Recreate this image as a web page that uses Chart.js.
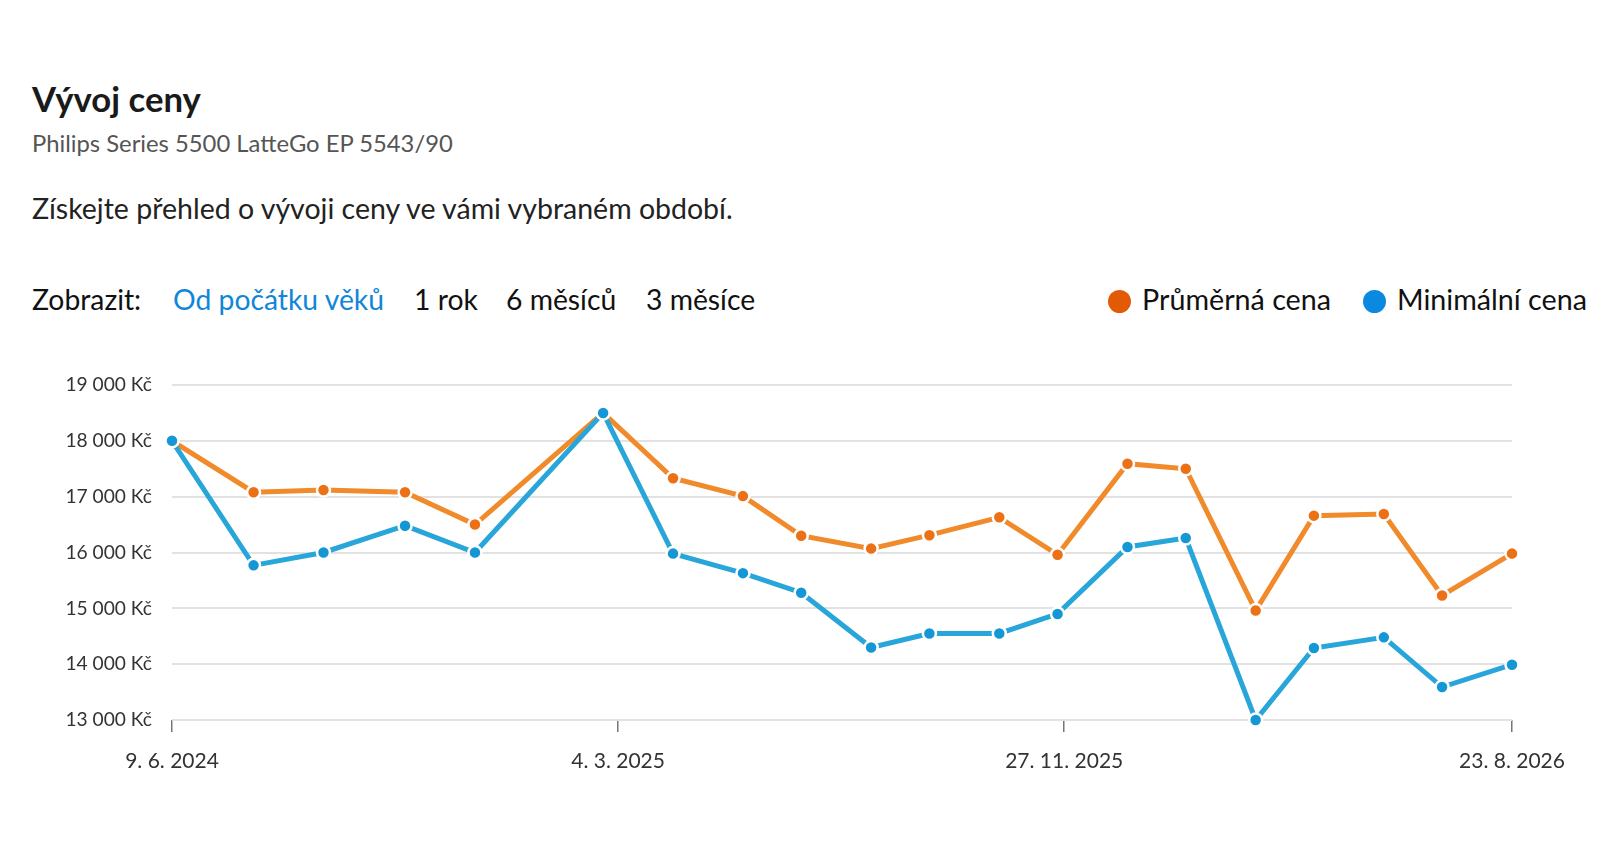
<!DOCTYPE html>
<html lang="cs">
<head>
<meta charset="utf-8">
<title>Vývoj ceny</title>
<script src="https://cdn.jsdelivr.net/npm/chart.js@4.4.1/dist/chart.umd.min.js"></script>
<style>
  html, body { margin: 0; padding: 0; background: #fff; }
  body { width: 1618px; height: 866px; position: relative; overflow: hidden; font-family: Lato, "Noto Sans", sans-serif; }
  .t { position: absolute; white-space: nowrap; line-height: 1; }
  #title { left: 32px; top: 82px; font-size: 34.7px; font-weight: 700; color: #1a1a1a; }
  #subtitle { left: 32px; top: 132px; font-size: 23.8px; color: #555; }
  #desc { left: 32px; top: 194px; font-size: 28.5px; color: #222; }
  .row { top: 285px; font-size: 28.3px; color: #111; }
  .active { color: #1186d8; }
  .dot { position: absolute; width: 23px; height: 23px; border-radius: 50%; top: 290px; }
  #chartBox { position: absolute; left: 0; top: 340px; width: 1618px; height: 460px; }
</style>
</head>
<body>
  <!-- header -->
  <div class="t" id="title">Vývoj ceny</div>
  <div class="t" id="subtitle">Philips Series 5500 LatteGo EP 5543/90</div>
  <div class="t" id="desc">Získejte přehled o vývoji ceny ve vámi vybraném období.</div>

  <!-- period switch -->
  <div class="t row" style="left:32px">Zobrazit:</div>
  <div class="t row active" style="left:173px">Od počátku věků</div>
  <div class="t row" style="left:414px">1 rok</div>
  <div class="t row" style="left:506px">6 měsíců</div>
  <div class="t row" style="left:646px">3 měsíce</div>

  <!-- legend -->
  <div class="dot" style="left:1108px; background:#e25a06"></div>
  <div class="t row" style="left:1142px; font-size:28.7px">Průměrná cena</div>
  <div class="dot" style="left:1363px; background:#0b89e0"></div>
  <div class="t row" style="left:1397px; font-size:28.7px">Minimální cena</div>

  <div id="chartBox"><canvas id="priceChart"></canvas></div>

<script>
// data
const dates = ['2024-06-09', '2024-07-28', '2024-09-08', '2024-10-27', '2024-12-08',
  '2025-02-23', '2025-04-06', '2025-05-18', '2025-06-22', '2025-08-03',
  '2025-09-07', '2025-10-19', '2025-11-23', '2026-01-04', '2026-02-08',
  '2026-03-22', '2026-04-26', '2026-06-07', '2026-07-12', '2026-08-23'];
const avgPrice = [18000, 17080, 17120, 17080, 16500, 18500, 17330, 17010, 16300, 16070,
  16310, 16630, 15960, 17590, 17500, 14960, 16660, 16690, 15230, 15980];
const minPrice = [18000, 15770, 16000, 16480, 16000, 18500, 15980, 15630, 15280, 14300,
  14550, 14550, 14900, 16100, 16260, 13000, 14290, 14480, 13590, 13990];
const xTickDates = ['2024-06-09', '2025-03-04', '2025-11-27', '2026-08-23'];
const yMin = 13000, yMax = 19000, yStep = 1000;

const DAY = 86400000;
const start = Date.parse(dates[0]);
const toDay = d => Math.round((Date.parse(d) - start) / DAY);
const xTicks = xTickDates.map(toDay);

function fmtDate(dayNum) {
  const d = new Date(start + dayNum * DAY);
  return d.getUTCDate() + '. ' + (d.getUTCMonth() + 1) + '. ' + d.getUTCFullYear();
}
function fmtPrice(v) {
  return String(v).replace(/\B(?=(\d{3})+(?!\d))/g, '\u00a0') + '\u00a0Kč';
}

const series = (values) => values.map((v, i) => ({ x: toDay(dates[i]), y: v }));

const lineStyle = {
  borderWidth: 5,
  pointRadius: 6.5,
  pointBorderWidth: 2.5,
  pointBorderColor: '#fff',
  tension: 0,
  clip: false
};

new Chart(document.getElementById('priceChart'), {
  type: 'line',
  data: {
    datasets: [
      Object.assign({
        label: 'Minimální cena',
        data: series(minPrice),
        borderColor: '#29a6d9',
        backgroundColor: '#1497d4',
        pointBackgroundColor: '#1497d4'
      }, lineStyle),
      Object.assign({
        label: 'Průměrná cena',
        data: series(avgPrice),
        borderColor: '#f08a2a',
        backgroundColor: '#ec7116',
        pointBackgroundColor: '#ec7116'
      }, lineStyle)
    ]
  },
  options: {
    responsive: true,
    maintainAspectRatio: false,
    animation: false,
    layout: { padding: { top: 45, right: 106, bottom: 0, left: 0 } },
    plugins: { legend: { display: false }, tooltip: { enabled: false } },
    scales: {
      x: {
        type: 'linear',
        min: 0,
        max: xTicks[xTicks.length - 1],
        afterBuildTicks: s => { s.ticks = xTicks.map(v => ({ value: v })); },
        afterFit: s => { s.height = 80; },
        border: { display: false },
        grid: { drawOnChartArea: false, drawTicks: true, tickLength: 12, color: '#777', lineWidth: 1.5 },
        ticks: {
          autoSkip: false,
          maxRotation: 0,
          padding: 17,
          color: '#333',
          font: { family: 'Lato, "Noto Sans", sans-serif', size: 21 },
          callback: v => fmtDate(v)
        }
      },
      y: {
        min: yMin,
        max: yMax,
        afterFit: s => { s.width = 172; },
        border: { display: false },
        grid: { color: '#e2e2e2', lineWidth: 2, drawTicks: false },
        ticks: {
          stepSize: yStep,
          padding: 20,
          color: '#333',
          font: { family: 'Lato, "Noto Sans", sans-serif', size: 19.2 },
          callback: v => fmtPrice(v)
        }
      }
    }
  }
});
</script>
</body>
</html>
